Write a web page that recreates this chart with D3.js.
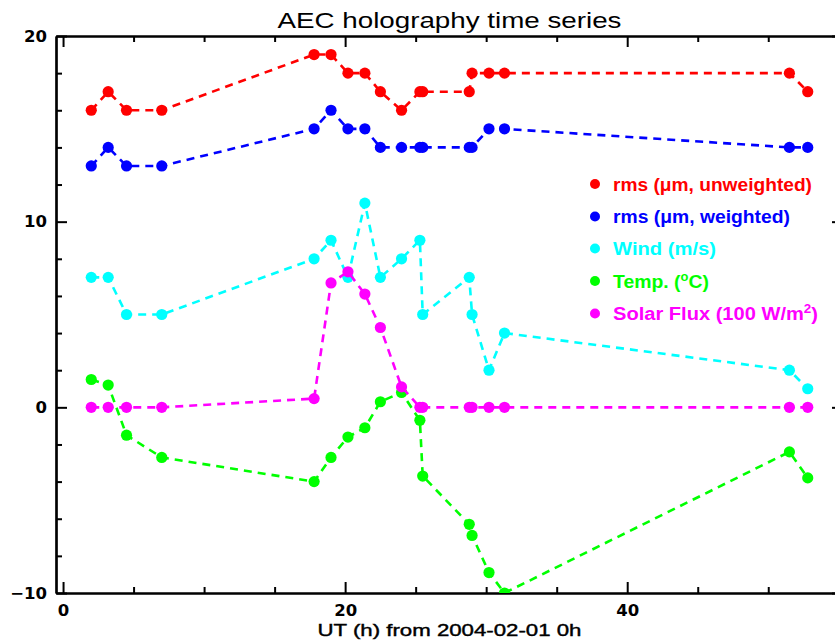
<!DOCTYPE html>
<html>
<head>
<meta charset="utf-8">
<script src="https://cdn.jsdelivr.net/npm/d3@7"></script>
<style>
  html, body { margin: 0; padding: 0; background: #fff; }
  svg { display: block; }
</style>
</head>
<body>
<script>
// ---- data ----
const hours = [2.0, 3.2, 4.5, 7.0, 17.8, 19.0, 20.2, 21.4, 22.5, 24.0, 25.3, 25.5, 28.8, 29.0, 30.2, 31.3, 51.5, 52.8];
const rmsUnweighted = [16, 17, 16, 16, 19, 19, 18, 18, 17, 16, 17, 17, 17, 18, 18, 18, 18, 17];
const rmsWeighted   = [13, 14, 13, 13, 15, 16, 15, 15, 14, 14, 14, 14, 14, 14, 15, 15, 14, 14];
const wind          = [7, 7, 5, 5, 8, 9, 7, 11, 7, 8, 9, 5, 7, 5, 2, 4, 2, 1];
const temperature   = [1.5, 1.2, -1.5, -2.7, -4.0, -2.7, -1.6, -1.1, 0.3, 0.8, -0.7, -3.7, -6.3, -6.9, -8.9, -10.0, -2.4, -3.8];
const solarFlux     = [0, 0, 0, 0, 0.47, 6.7, 7.3, 6.1, 4.3, 1.1, 0, 0, 0, 0, 0, 0, 0, 0];

const seriesNames  = ["rms (μm, unweighted)", "rms (μm, weighted)", "Wind (m/s)", "Temp. (°C)", "Solar Flux (100 W/m²)"];
const seriesColors = ["#ff0000", "#0000ff", "#00ffff", "#00ff00", "#ff00ff"];
const seriesValues = [rmsUnweighted, rmsWeighted, wind, temperature, solarFlux];

const xMajorTicks = [0, 20, 40];
const xMinorTicks = [5, 10, 15, 25, 30, 35, 45, 50, 55];
const yMajorTicks = [-10, 0, 10, 20];
const yMinorTicks = [-8, -6, -4, -2, 2, 4, 6, 8, 12, 14, 16, 18];

const titleText = "AEC holography time series";
const xTitleText = "UT (h) from 2004-02-01 0h";

// ---- layout ----
const W = 835, H = 643;
const pLeft = 56, pRight = 843, pTop = 36, pBottom = 593;

const svg = d3.select("body").append("svg").attr("width", W).attr("height", H);

const x = d3.scaleLinear().domain([-0.5, 55.3]).range([pLeft, pRight]);
const y = d3.scaleLinear().domain([-10, 20]).range([pBottom, pTop]);

svg.append("clipPath").attr("id", "plotclip")
  .append("rect").attr("x", pLeft).attr("y", pTop).attr("width", pRight - pLeft).attr("height", pBottom - pTop);

// ---- axes ----
const axisFont = "'DejaVu Sans', sans-serif";
function styleAxis(g) {
  g.select(".domain").attr("stroke", "#000").attr("stroke-width", 2.2);
  g.selectAll(".tick line").attr("stroke", "#000").attr("stroke-width", 2);
  g.selectAll(".tick text").attr("fill", "#000").attr("font-family", axisFont)
    .attr("font-weight", "bold").attr("font-size", 16.5);
}

// bottom
svg.append("g").attr("transform", `translate(0,${pBottom})`)
  .call(d3.axisBottom(x).tickValues(xMajorTicks).tickSizeInner(-11).tickSizeOuter(0).tickPadding(11).tickFormat(d3.format("d")))
  .call(styleAxis);
svg.append("g").attr("transform", `translate(0,${pBottom})`)
  .call(d3.axisBottom(x).tickValues(xMinorTicks).tickSizeInner(-6).tickSizeOuter(0).tickFormat(""))
  .call(styleAxis);
// top
svg.append("g").attr("transform", `translate(0,${pTop})`)
  .call(d3.axisTop(x).tickValues(xMajorTicks).tickSizeInner(-11).tickSizeOuter(0).tickFormat(""))
  .call(styleAxis);
svg.append("g").attr("transform", `translate(0,${pTop})`)
  .call(d3.axisTop(x).tickValues(xMinorTicks).tickSizeInner(-6).tickSizeOuter(0).tickFormat(""))
  .call(styleAxis);
// left
svg.append("g").attr("transform", `translate(${pLeft},0)`)
  .call(d3.axisLeft(y).tickValues(yMajorTicks).tickSizeInner(-11).tickSizeOuter(0).tickPadding(9).tickFormat(d3.format("d")))
  .call(styleAxis);
svg.append("g").attr("transform", `translate(${pLeft},0)`)
  .call(d3.axisLeft(y).tickValues(yMinorTicks).tickSizeInner(-6).tickSizeOuter(0).tickFormat(""))
  .call(styleAxis);
// right
svg.append("g").attr("transform", `translate(${pRight},0)`)
  .call(d3.axisRight(y).tickValues(yMajorTicks).tickSizeInner(-11).tickSizeOuter(0).tickFormat(""))
  .call(styleAxis);
svg.append("g").attr("transform", `translate(${pRight},0)`)
  .call(d3.axisRight(y).tickValues(yMinorTicks).tickSizeInner(-6).tickSizeOuter(0).tickFormat(""))
  .call(styleAxis);

// ---- titles ----
svg.append("text").attr("x", (pLeft + pRight) / 2).attr("y", 28)
  .attr("text-anchor", "middle").attr("font-family", "'Liberation Sans', sans-serif")
  .attr("font-size", 22).attr("fill", "#000")
  .attr("textLength", 344).attr("lengthAdjust", "spacingAndGlyphs")
  .text(titleText);

svg.append("text").attr("x", (pLeft + pRight) / 2).attr("y", 636)
  .attr("text-anchor", "middle").attr("font-family", "'Liberation Sans', sans-serif")
  .attr("font-size", 17).attr("fill", "#000").attr("stroke", "#000").attr("stroke-width", 0.4)
  .attr("textLength", 264).attr("lengthAdjust", "spacingAndGlyphs")
  .text(xTitleText);

// ---- series ----
const plot = svg.append("g").attr("clip-path", "url(#plotclip)");
const line = d3.line().x(d => x(d[0])).y(d => y(d[1]));

seriesValues.forEach((vals, i) => {
  const pts = hours.map((h, j) => [h, vals[j]]);
  const g = plot.append("g");
  g.append("path").datum(pts).attr("d", line)
    .attr("fill", "none").attr("stroke", seriesColors[i])
    .attr("stroke-width", 2.6).attr("stroke-dasharray", "8,6");
  g.selectAll("circle").data(pts).join("circle")
    .attr("cx", d => x(d[0])).attr("cy", d => y(d[1])).attr("r", 5.6)
    .attr("fill", seriesColors[i]);
});

// ---- legend ----
const legendRowsY = [184, 216.5, 248.5, 281, 313.5];
const legendWidths = [199, 177, 103, 96, 205];
const leg = svg.append("g");
seriesNames.forEach((name, i) => {
  const cy = legendRowsY[i];
  leg.append("circle").attr("cx", 595).attr("cy", cy).attr("r", 5).attr("fill", seriesColors[i]);
  const t = leg.append("text").attr("x", 613).attr("y", cy + 6.5)
    .attr("font-family", "'Liberation Sans', sans-serif").attr("font-weight", "bold")
    .attr("font-size", 18).attr("fill", seriesColors[i])
    .attr("textLength", legendWidths[i]).attr("lengthAdjust", "spacingAndGlyphs");
  if (name.includes("°")) {
    const [a, b] = name.split("°");
    t.append("tspan").text(a);
    t.append("tspan").attr("dy", -7).attr("font-size", 12).text("o");
    t.append("tspan").attr("dy", 7).text(b);
  } else if (name.includes("²")) {
    const [a, b] = name.split("²");
    t.append("tspan").text(a);
    t.append("tspan").attr("dy", -7).attr("font-size", 12).text("2");
    t.append("tspan").attr("dy", 7).text(b);
  } else {
    t.text(name);
  }
});
</script>
</body>
</html>
